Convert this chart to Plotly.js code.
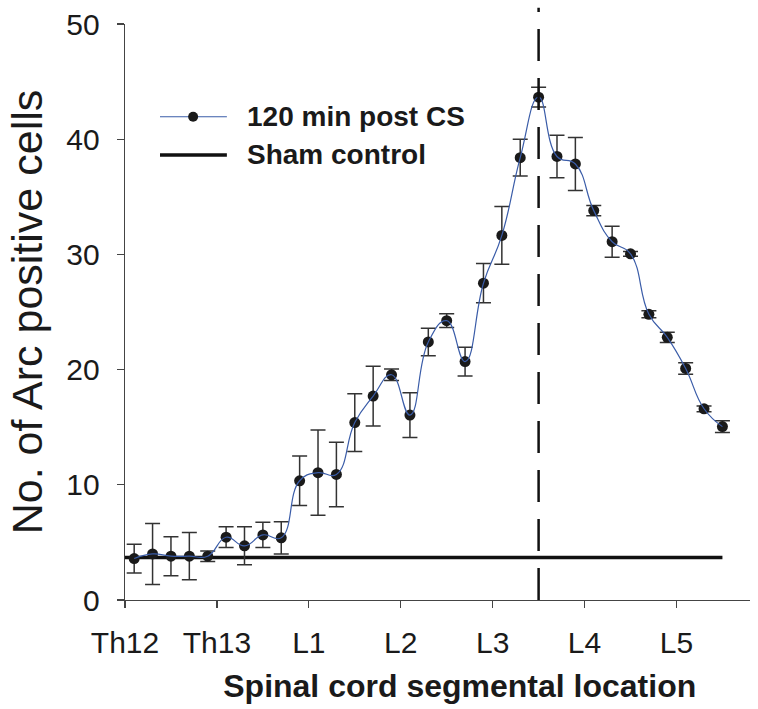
<!DOCTYPE html>
<html>
<head>
<meta charset="utf-8">
<script src="https://cdn.plot.ly/plotly-3.0.1.min.js"></script>
<style>
html,body{margin:0;padding:0;background:#fff;}
#chart{width:758px;height:709px;}
</style>
</head>
<body>
<div id="chart"></div>
<script>
// Segment tick labels (position 0..6)
var segTickVals = [0, 1, 2, 3, 4, 5, 6];
var segTickText = ["Th12", "Th13", "L1", "L2", "L3", "L4", "L5"];

// 120 min post CS
var sampleX = [0.1, 0.3, 0.5, 0.7, 0.9, 1.1, 1.3, 1.5, 1.7, 1.9, 2.1, 2.3, 2.5, 2.7, 2.9, 3.1, 3.3, 3.5, 3.7, 3.9, 4.1, 4.3, 4.5, 4.7, 4.9, 5.1, 5.3, 5.5, 5.7, 5.9, 6.1, 6.3, 6.5];
var arcMean = [3.6, 4.0, 3.8, 3.8, 3.8, 5.45, 4.7, 5.65, 5.4, 10.35, 11.05, 10.9, 15.4, 17.7, 19.55, 16.05, 22.4, 24.25, 20.7, 27.5, 31.65, 38.4, 43.65, 38.5, 37.85, 33.8, 31.1, 30.05, 24.8, 22.8, 20.1, 16.6, 15.05];
var arcErr = [1.25, 2.65, 1.7, 2.05, 0.45, 0.9, 1.65, 1.1, 1.4, 2.15, 3.7, 2.8, 2.5, 2.6, 0.5, 1.95, 1.2, 0.6, 1.25, 1.7, 2.5, 1.6, 0.85, 1.85, 2.3, 0.45, 1.35, 0.2, 0.3, 0.45, 0.5, 0.25, 0.5];

// Sham control
var shamX = [0, 6.5];
var shamY = [3.7, 3.7];

// Injury site marker
var injuryX = 4.5;

var FONT = "Liberation Sans, Arial, sans-serif";

var traces = [
  {
    x: shamX, y: shamY, type: "scatter", mode: "lines",
    name: "Sham control", showlegend: false,
    line: {color: "#111111", width: 3.5}
  },
  {
    x: sampleX, y: arcMean, type: "scatter", mode: "markers",
    name: "120 min post CS", showlegend: false,
    marker: {color: "#1a1a1a", size: 11},
    error_y: {type: "data", array: arcErr, visible: true, color: "#333333", thickness: 1.5, width: 7.5}
  },
  {
    x: sampleX, y: arcMean, type: "scatter", mode: "lines",
    name: "120 min post CS (fit)", showlegend: false,
    line: {color: "#3a5ca8", width: 1.2, shape: "spline", smoothing: 1.3}
  }
];

var layout = {
  width: 758, height: 709,
  margin: {l: 125, r: 8, t: 24, b: 109},
  paper_bgcolor: "#ffffff", plot_bgcolor: "#ffffff",
  font: {family: FONT, color: "#1a1a1a"},
  showlegend: false,
  xaxis: {
    range: [0, 6.8], showgrid: false, zeroline: false,
    showline: true, linecolor: "#444444", linewidth: 1.3,
    tickmode: "array", tickvals: segTickVals, ticktext: segTickText,
    ticks: "outside", ticklen: 7, tickwidth: 1.3, tickcolor: "#444444",
    tickfont: {family: FONT, size: 30, color: "#1a1a1a"},
    ticklabelstandoff: 9,
    title: {text: "&nbsp;&nbsp;&nbsp;&nbsp;&nbsp;<b>Spinal cord segmental location</b>", font: {family: FONT, size: 32, color: "#1a1a1a"}, standoff: 16}
  },
  yaxis: {
    range: [0, 50], showgrid: false, zeroline: false,
    showline: true, linecolor: "#444444", linewidth: 1.3,
    tickvals: [0, 10, 20, 30, 40, 50],
    ticks: "outside", ticklen: 7, tickwidth: 1.3, tickcolor: "#444444",
    tickfont: {family: FONT, size: 30, color: "#1a1a1a"},
    ticklabelstandoff: 11,
    title: {text: "No. of Arc positive cells", font: {family: FONT, size: 43, color: "#1a1a1a"}, standoff: 10}
  },
  shapes: [
    {type: "line", xref: "x", yref: "paper", x0: injuryX, x1: injuryX, y0: 0, y1: 1.028,
     line: {color: "#111111", width: 2.5, dash: "32px,17px"}},
    // legend samples
    {type: "line", xref: "paper", yref: "paper", x0: 0.056, x1: 0.163, y0: 0.839, y1: 0.839,
     line: {color: "#3a5ca8", width: 1.2}},
    {type: "circle", xref: "paper", yref: "paper", xsizemode: "pixel", ysizemode: "pixel",
     xanchor: 0.109, yanchor: 0.839, x0: -5, x1: 5, y0: -5, y1: 5,
     fillcolor: "#1a1a1a", line: {color: "#1a1a1a", width: 0}},
    {type: "line", xref: "paper", yref: "paper", x0: 0.056, x1: 0.163, y0: 0.7726, y1: 0.7726,
     line: {color: "#111111", width: 3.5}}
  ],
  annotations: [
    {xref: "paper", yref: "paper", x: 0.192, y: 0.839, xanchor: "left", yanchor: "middle",
     text: "<b>120 min post CS</b>", showarrow: false, font: {family: FONT, size: 28, color: "#1a1a1a"}},
    {xref: "paper", yref: "paper", x: 0.192, y: 0.7726, xanchor: "left", yanchor: "middle",
     text: "<b>Sham control</b>", showarrow: false, font: {family: FONT, size: 28, color: "#1a1a1a"}}
  ]
};

Plotly.newPlot("chart", traces, layout, {staticPlot: true, displayModeBar: false});
</script>
</body>
</html>
